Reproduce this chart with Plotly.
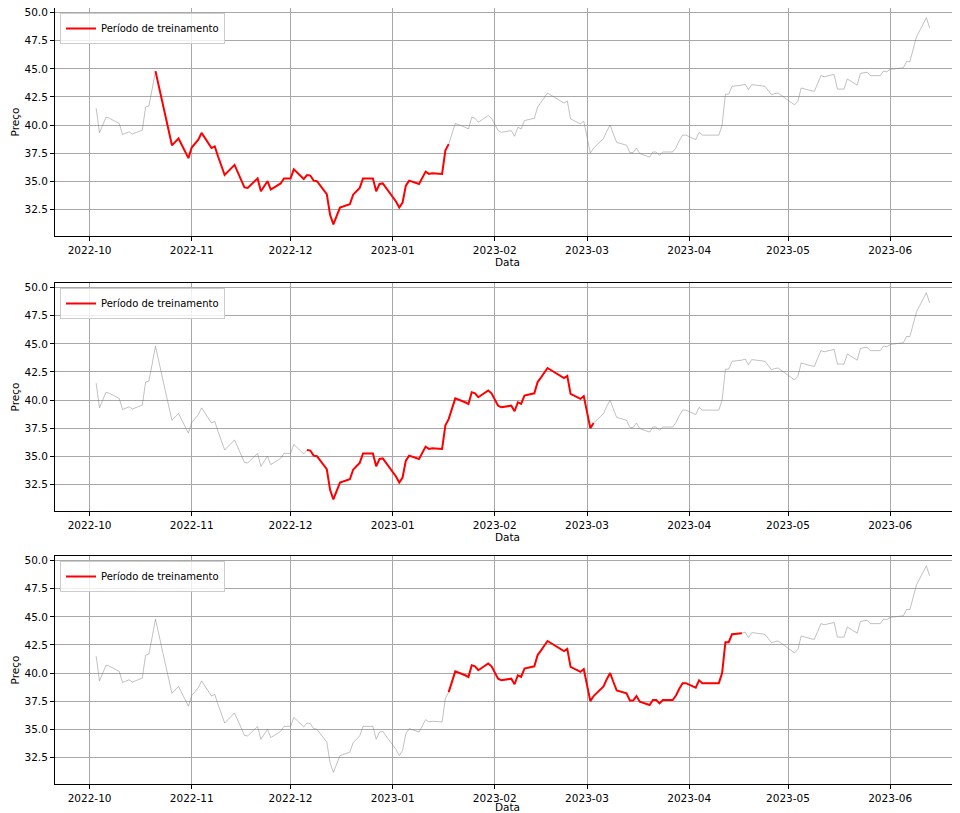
import pandas as pd
import plotly.graph_objects as go

# B3 trading calendar (non-trading weekdays in the period)
holidays = ['2022-10-12', '2022-11-02', '2022-11-15', '2022-12-30',
            '2023-02-20', '2023-02-21', '2023-04-07', '2023-04-21',
            '2023-05-01', '2023-06-08']
dates = pd.bdate_range('2022-10-03', '2023-06-13', freq='C', holidays=holidays)

prices_oct = [41.5, 39.3, 40.0, 40.7, 40.6, 40.15, 39.15, 39.4, 39.2, 39.55,
              41.6, 41.7, 43.2, 44.8, 40.8, 39.6, 38.2, 38.5, 38.8, 37.05]
prices_nov = [38.0, 38.7, 39.3, 37.95, 38.1, 37.2, 36.4, 35.55, 36.45, 35.2,
              34.45, 34.4, 35.25, 34.1, 34.55, 35.0, 34.25, 34.8, 35.25, 35.25]
prices_dec = [35.25, 36.05, 35.2, 35.55, 35.5, 35.05, 35.0, 33.85, 32.0, 31.15,
              31.9, 32.65, 32.95, 33.8, 34.1, 34.4, 35.25, 35.25, 34.1, 34.75, 34.8]
prices_jan = [33.2, 32.65, 33.1, 34.6, 35.05, 34.75, 35.3, 35.85, 35.65, 35.7,
              35.65, 37.75, 38.3, 39.2, 40.15, 39.8, 39.65, 40.7, 40.6, 40.25,
              40.85, 40.6]
prices_feb = [40.0, 39.5, 39.35, 39.5, 39.0, 39.8, 39.65, 40.4, 40.6, 41.6,
              42.0, 42.45, 42.85, 41.95, 42.15, 40.55, 40.1, 40.35]
prices_mar = [39.0, 37.5, 37.95, 38.8, 39.45, 40.0, 39.2, 38.45, 38.2, 37.55,
              37.55, 37.95, 37.45, 37.15, 37.6, 37.6, 37.3, 37.6, 37.6, 38.0,
              38.6, 39.1, 39.1]
prices_apr = [38.7, 39.35, 39.1, 39.1, 39.1, 40.0, 42.75, 42.75, 43.45, 43.55,
              43.65, 43.15, 43.6, 43.45, 43.1, 42.7, 42.8, 42.85]
prices_may = [42.0, 41.8, 42.1, 43.3, 43.05, 43.0, 43.7, 44.4, 44.3, 44.5,
              43.2, 43.2, 43.2, 44.1, 43.55, 44.6, 44.65, 44.7, 44.4, 44.4,
              44.8, 44.75]
prices_jun = [44.95, 45.0, 45.1, 45.65, 45.65, 47.85, 49.55, 48.65]

prices = (prices_oct + prices_nov + prices_dec + prices_jan + prices_feb +
          prices_mar + prices_apr + prices_may + prices_jun)
assert len(prices) == len(dates), (len(prices), len(dates))

series = pd.Series(prices, index=dates)

train_start = ['2022-10-21', '2022-12-06', '2023-01-18']
train_end = ['2023-01-18', '2023-03-03', '2023-04-17']
legend_label = 'Período de treinamento'

FONT = 'DejaVu Sans'
# the page body adds an 8px offset, so the figure is 8px smaller
W, H = 952, 805
ML, MR, MT, MB = 47, 0, 0, 29
plot_h = H - MT - MB
panels_px = [(0, 228), (275, 503), (548, 776)]  # top, bottom in figure px


def frac(px):
    return (H - MB - px) / plot_h


fig = go.Figure()
legend_names = ['legend', 'legend2', 'legend3']
for i in range(3):
    ax = '' if i == 0 else str(i + 1)
    fig.add_trace(go.Scatter(
        x=series.index, y=series.values, mode='lines',
        line=dict(color='rgba(128,128,128,0.55)', width=0.9),
        showlegend=False, hoverinfo='skip',
        xaxis='x' + ax, yaxis='y' + ax))
    sub = series.loc[train_start[i]:train_end[i]]
    fig.add_trace(go.Scatter(
        x=sub.index, y=sub.values, mode='lines',
        line=dict(color='red', width=2),
        name=legend_label, legend=legend_names[i],
        xaxis='x' + ax, yaxis='y' + ax))

axis_common = dict(
    showline=True, linecolor='black', linewidth=1, mirror=True,
    ticks='outside', ticklen=4, tickcolor='black', tickwidth=1,
    showgrid=True, gridcolor='#a8a8a8', gridwidth=1, zeroline=False,
    tickfont=dict(family=FONT, size=10.5, color='black'),
    automargin=False, ticklabeloverflow='allow',
)

layout = dict(
    width=W, height=H,
    margin=dict(l=ML, r=MR, t=MT, b=MB, autoexpand=False),
    paper_bgcolor='white', plot_bgcolor='white',
    font=dict(family=FONT, size=10.5, color='black'),
)

for i, (top, bot) in enumerate(panels_px):
    ax = '' if i == 0 else str(i + 1)
    layout['xaxis' + ax] = dict(
        axis_common, type='date', domain=[0, 1],
        anchor='y' + ax,
        range=['2022-09-20 12:00', '2023-06-22 05:00'],
        dtick='M1', tick0='2022-10-01', tickformat='%Y-%m',
        title=dict(text='Data', font=dict(family=FONT, size=10.5), standoff=0),
    )
    layout['yaxis' + ax] = dict(
        axis_common, domain=[frac(bot), frac(top)],
        anchor='x' + ax,
        range=[30.12, 50.42], tick0=32.5, dtick=2.5, tickformat='.1f',
        title=dict(text='Preço', font=dict(family=FONT, size=10.5), standoff=2),
    )
    layout[legend_names[i]] = dict(
        x=(5) / (W - ML - MR), y=frac(top + 5),
        xanchor='left', yanchor='top',
        bgcolor='rgba(255,255,255,0.8)', bordercolor='#cccccc', borderwidth=1,
        font=dict(family=FONT, size=10, color='black'),
        itemwidth=30, tracegroupgap=0,
    )

fig.update_layout(**layout)
fig.write_html('out.html')
